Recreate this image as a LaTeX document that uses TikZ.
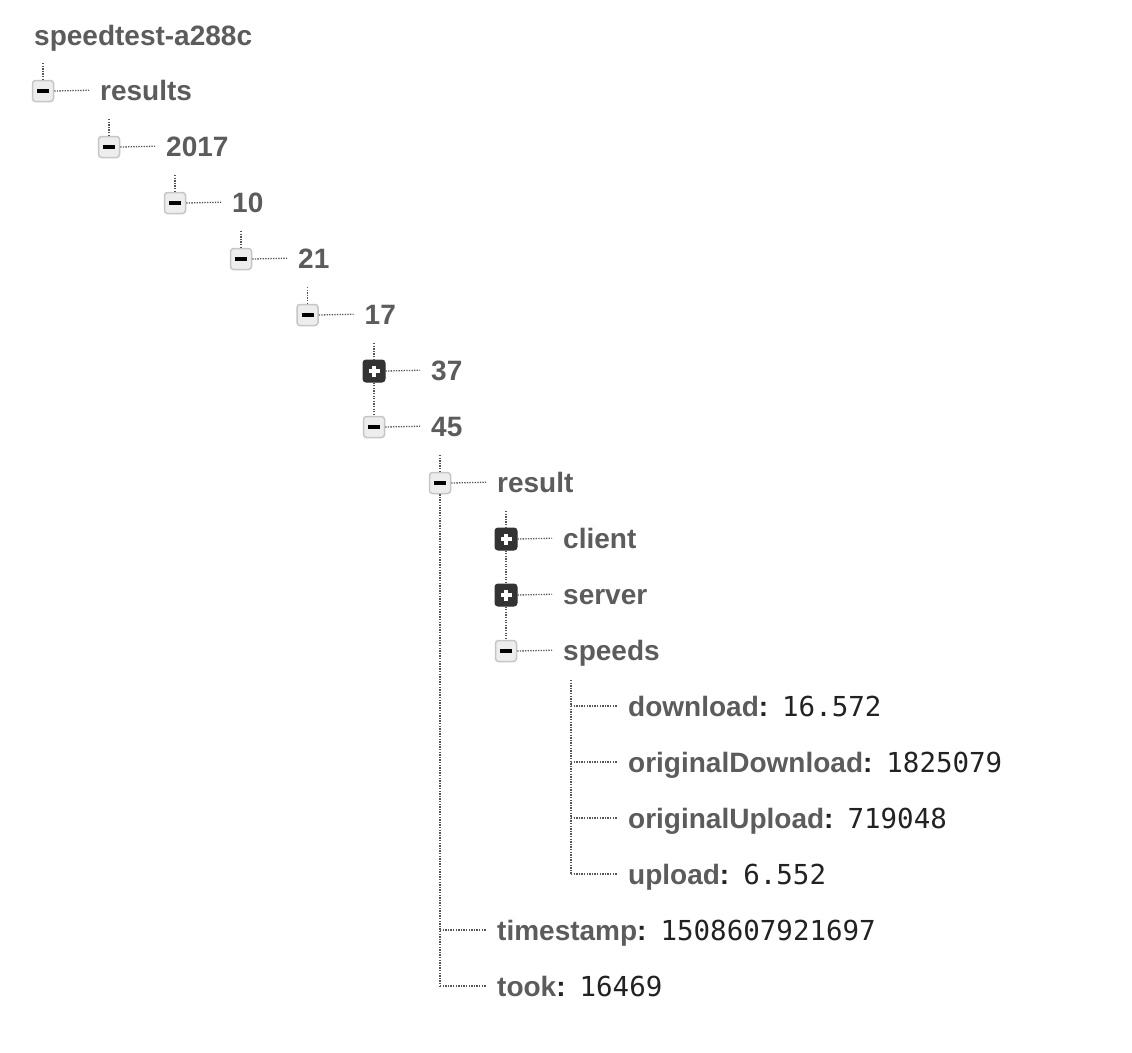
\documentclass[tikz,border=0pt]{standalone}
\usepackage{fontspec}
\setmainfont{Liberation Sans}
\newfontfamily\valfont{DejaVu Sans Mono}
\definecolor{labelgray}{HTML}{5C5C5C}
\definecolor{valblack}{HTML}{222222}
\definecolor{dotgray}{HTML}{555555}
\definecolor{minusfill}{HTML}{EDEDED}
\definecolor{minusdraw}{HTML}{C6C6C6}
\definecolor{plusfill}{HTML}{333333}
\newcommand{\kv}[2]{#1{\color{valblack}:}\hspace{14pt}{\mdseries\fontsize{27.5}{30}\selectfont\valfont\color{valblack}#2}}
\tikzset{
  lbl/.style={anchor=base west, inner sep=0pt, text height=23pt, text depth=3pt,
    font=\fontsize{28}{30}\selectfont\bfseries, text=labelgray},
  minusicon/.style={rectangle, rounded corners=3pt, minimum size=21pt, inner sep=0pt,
    fill=minusfill, draw=minusdraw, line width=1.5pt,
    path picture={\fill[black, sharp corners] ([xshift=-6pt,yshift=-2pt]path picture bounding box.center) rectangle ++(12pt,4pt);}},
  plusicon/.style={rectangle, rounded corners=3pt, minimum size=22pt, inner sep=0pt,
    fill=plusfill, draw=plusfill, line width=1pt,
    path picture={\fill[white, sharp corners] ([xshift=-5.5pt,yshift=-2pt]path picture bounding box.center) rectangle ++(11pt,4pt);
                  \fill[white, sharp corners] ([xshift=-2pt,yshift=-5.5pt]path picture bounding box.center) rectangle ++(4pt,11pt);}},
  dotline/.style={draw=dotgray, line width=1.3pt, dash pattern=on 1.3pt off 1.3pt},
  tolabel/.style={dotline, shorten >=11pt},
}
\begin{document}
\begin{tikzpicture}[x=1pt,y=-1pt]
\useasboundingbox[fill=white] (0,0) rectangle (1132,1052);

\node[lbl] (title) at (34,45) {speedtest-a288c};

% icons
\node[minusicon] (iresults) at (43,91) {};
\node[minusicon] (i2017) at (109,147) {};
\node[minusicon] (i10) at (175,203) {};
\node[minusicon] (i21) at (241,259) {};
\node[minusicon] (i17) at (307.5,315) {};
\node[plusicon]  (i37) at (374,371) {};
\node[minusicon] (i45) at (374,427) {};
\node[minusicon] (iresult) at (440,483) {};
\node[plusicon]  (iclient) at (506,539) {};
\node[plusicon]  (iserver) at (506,595) {};
\node[minusicon] (ispeeds) at (506,651) {};

% labels
\node[lbl] (tresults) at (100,100) {results};
\node[lbl] (t2017) at (166,156) {2017};
\node[lbl] (t10) at (232,212) {10};
\node[lbl] (t21) at (298,268) {21};
\node[lbl] (t17) at (364.5,324) {17};
\node[lbl] (t37) at (431,380) {37};
\node[lbl] (t45) at (431,436) {45};
\node[lbl] (tresult) at (497,492) {result};
\node[lbl] (tclient) at (563,548) {client};
\node[lbl] (tserver) at (563,604) {server};
\node[lbl] (tspeeds) at (563,660) {speeds};
\node[lbl] (tdownload) at (628,716) {\kv{download}{16.572}};
\node[lbl] (toriginalDownload) at (628,772) {\kv{originalDownload}{1825079}};
\node[lbl] (toriginalUpload) at (628,828) {\kv{originalUpload}{719048}};
\node[lbl] (tupload) at (628,884) {\kv{upload}{6.552}};
\node[lbl] (ttimestamp) at (497,940) {\kv{timestamp}{1508607921697}};
\node[lbl] (ttook) at (497,996) {\kv{took}{16469}};

% stubs above first children
\coordinate (sresults) at (43,63);
\coordinate (s2017) at (109,119);
\coordinate (s10) at (175,175);
\coordinate (s21) at (241,231);
\coordinate (s17) at (307.5,287);
\coordinate (s37) at (374,343);
\coordinate (sresult) at (440,455);
\coordinate (sclient) at (506,511);
\coordinate (sspeeds) at (571,680);
\coordinate (espeeds) at (sspeeds |- tupload.west);
\coordinate (eresult) at (iresult.south |- ttook.west);

\draw[dotline] (sresults) -- (iresults.north);
\draw[dotline] (s2017) -- (i2017.north);
\draw[dotline] (s10) -- (i10.north);
\draw[dotline] (s21) -- (i21.north);
\draw[dotline] (s17) -- (i17.north);
\draw[dotline] (s37) -- (i37.north);
\draw[dotline] (i37.south) -- (i45.north);
\draw[dotline] (sresult) -- (iresult.north);
\draw[dotline] (sclient) -- (iclient.north);
\draw[dotline] (iclient.south) -- (iserver.north);
\draw[dotline] (iserver.south) -- (ispeeds.north);

% icon to label
\draw[tolabel] (iresults.east) -- (tresults.west);
\draw[tolabel] (i2017.east) -- (t2017.west);
\draw[tolabel] (i10.east) -- (t10.west);
\draw[tolabel] (i21.east) -- (t21.west);
\draw[tolabel] (i17.east) -- (t17.west);
\draw[tolabel] (i37.east) -- (t37.west);
\draw[tolabel] (i45.east) -- (t45.west);
\draw[tolabel] (iresult.east) -- (tresult.west);
\draw[tolabel] (iclient.east) -- (tclient.west);
\draw[tolabel] (iserver.east) -- (tserver.west);
\draw[tolabel] (ispeeds.east) -- (tspeeds.west);

% leaves of speeds
\draw[dotline] (sspeeds) -- (espeeds);
\draw[tolabel] (sspeeds |- tdownload.west) -- (tdownload.west);
\draw[tolabel] (sspeeds |- toriginalDownload.west) -- (toriginalDownload.west);
\draw[tolabel] (sspeeds |- toriginalUpload.west) -- (toriginalUpload.west);
\draw[tolabel] (espeeds) -- (tupload.west);

% leaves of result
\draw[dotline] (iresult.south) -- (eresult);
\draw[tolabel] (iresult.south |- ttimestamp.west) -- (ttimestamp.west);
\draw[tolabel] (eresult) -- (ttook.west);
\end{tikzpicture}
\end{document}
